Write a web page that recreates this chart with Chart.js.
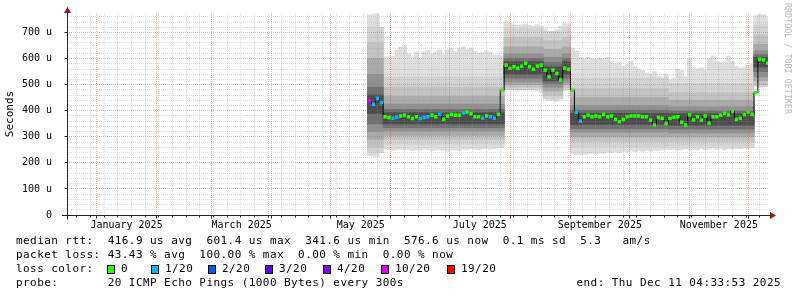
<!DOCTYPE html>
<html><head><meta charset="utf-8">
<script src="https://cdn.jsdelivr.net/npm/chart.js@4.4.1/dist/chart.umd.min.js"></script>
<style>
html,body{margin:0;padding:0;background:#fff;}
#wrap{position:relative;width:797px;height:297px;overflow:hidden;background:#fff;}
#c{position:absolute;left:0;top:0;}
.t{position:absolute;font-family:"DejaVu Sans Mono",monospace;font-size:11px;letter-spacing:0.43px;white-space:pre;color:#000;line-height:14px;}
.sw{position:absolute;top:265px;width:6px;height:7px;border:1px solid #000;}
#wm{position:absolute;left:781px;top:3px;font-family:"DejaVu Sans Mono",monospace;font-size:8.4px;color:#b8b8b8;white-space:pre;transform-origin:0 0;transform:translate(12px,0) rotate(90deg);}
</style></head>
<body><div id="wrap"><canvas id="c" width="797" height="297"></canvas>
<div class="t" style="left:16px;top:234px">median rtt:  416.9 us avg  601.4 us max  341.6 us min  576.6 us now  0.1 ms sd  5.3   am/s</div>
<div class="t" style="left:16px;top:248px">packet loss: 43.43 % avg  100.00 % max  0.00 % min  0.00 % now</div>
<div class="t" style="left:16px;top:262px">loss color:</div>
<div id="losscolor"></div>
<div class="t" style="left:16px;top:276px">probe:       20 ICMP Echo Pings (1000 Bytes) every 300s</div>
<div class="t" style="right:16px;top:276px">end: Thu Dec 11 04:33:53 2025</div>
<div id="wm">RRDTOOL / TOBI OETIKER</div>
</div>
<script>
// ---- data (days since 1 Jan 2025, values in microseconds) ----
const bucketDay = [140,142,144,146,148,150,152,154,156,158,160,162,164,166,168,170,172,174,176,178,180,182,184,186,188,190,192,194,196,198,200,202,204,206,208,210,212,214,216,218,220,222,224,226,228,230,232,234,236,238,240,242,244,246,248,250,252,254,256,258,260,262,264,266,268,270,272,274,276,278,280,282,284,286,288,290,292,294,296,298,300,302,304,306,308,310,312,314,316,318,320,322,324,326,328,330,332,334,336,338,340,342,344];
const medianRtt = [438,425,448,431,377,374,371,375,380,383,
 377,370,377,370,374,377,383,377,387,367,
 380,386,383,383,392,395,389,377,377,371,
 380,377,371,386,479,575,563,569,563,571,
 582,569,559,571,575,556,530,556,543,518,
 563,559,479,394,360,377,383,377,380,377,
 386,377,380,367,358,367,377,380,380,380,
 377,377,364,345,374,371,351,371,375,377,
 356,345,384,365,377,364,380,352,377,377,
 383,390,384,399,367,371,385,395,386,469,
 598,595,583];
const lossCount = [10,1,1,1,0,0,1,1,0,0,
 0,0,0,1,1,1,0,0,1,0,
 0,0,0,0,1,0,0,0,0,1,
 0,1,1,0,0,0,0,0,0,0,
 0,0,0,0,0,0,0,0,0,0,
 0,0,0,1,1,0,0,0,0,0,
 0,0,0,0,0,0,0,0,0,0,
 0,0,0,0,0,0,0,0,0,0,
 0,0,0,0,0,0,0,0,0,0,
 0,0,0,0,0,0,0,0,0,0,
 0,0,0];
const smokeHi = [768,770,772,700,607,607,610,633,645,650,
 618,607,626,601,626,633,618,626,633,614,
 633,640,626,640,646,636,640,630,620,625,
 630,625,614,614,610,745,735,730,728,730,
 732,728,725,730,725,715,705,700,710,725,
 735,732,640,630,605,600,605,600,598,602,
 600,605,590,580,585,570,578,590,570,560,
 555,545,540,550,530,525,540,520,525,560,
 555,530,600,565,560,565,555,600,610,590,
 585,590,610,590,570,565,565,575,580,765,
 770,768,760];
const smokeLo = [228,225,224,240,252,250,248,250,252,249,
 251,247,250,248,252,250,246,249,251,248,
 245,249,250,247,252,250,255,252,250,254,
 256,252,255,258,258,482,480,483,478,481,
 484,480,482,476,470,445,440,438,436,445,
 478,482,236,232,230,232,235,236,234,238,
 236,240,238,242,240,244,241,245,243,246,
 244,248,245,250,247,249,252,250,253,248,
 251,254,249,252,250,255,251,253,256,252,
 254,250,255,253,256,254,257,255,258,492,
 490,495,493];
// inner smoke layers, per stretch of buckets (first bucket index of each stretch)
const segFirst = [0,4,35,45,50,52,77,99];
const band2Hi = [720,530,715,705,715,525,505,730];
const band2Lo = [240,272,481,445,481,262,265,494];
const band3Hi = [660,490,680,670,680,485,470,690];
const band3Lo = [260,290,490,460,490,282,282,500];
const band4Hi = [600,455,645,635,645,450,440,655];
const band4Lo = [290,305,500,475,500,300,300,515];
const band5Hi = [540,425,618,605,618,420,415,630];
const band5Lo = [320,322,510,490,510,318,315,530];
const band6Hi = [490,405,600,585,600,402,398,615];
const band6Lo = [350,335,525,505,525,332,330,550];
const band7Hi = [460,392,588,568,588,390,388,605];
const band7Lo = [390,350,540,515,540,348,345,568];
const smokeShades = ['#dedede','#d2d2d2','#c2c2c2','#aaaaaa','#909090','#707070','#4c4c4c'];
// axis / legend
const yTicks = [0,100,200,300,400,500,600,700];
const monthStartDays = [0,31,59,90,120,151,181,212,243,273,304,334];
const monthLabelDays = [15.5,74.5,135.5,196.5,258,319];
const monthLabels = ['January 2025','March 2025','May 2025','July 2025','September 2025','November 2025'];
const firstSunday = -10;
const lossSteps = [0,1,2,3,4,10,19];
const lossNames = ['0','1/20','2/20','3/20','4/20','10/20','19/20'];
const lossColors = ['#26ff00','#00b8ff','#0059ff','#5e00ff','#7e00ff','#dd00ff','#ff0000'];
const lossKeyX = [107,151,208,265,323,381,447];
const X_MIN = -15, X_MAX = 344.2, Y_MAX = 775;

// loss colour key
(function(){
  const el = document.getElementById('losscolor');
  let h = '';
  lossNames.forEach((n,i)=>{
    h += '<span class="sw" style="left:'+lossKeyX[i]+'px;background:'+lossColors[i]+'"></span>';
    h += '<span class="t" style="left:'+(lossKeyX[i]+14)+'px;top:262px">'+n+'</span>';
  });
  el.innerHTML = h;
})();

function segOf(i){ let s=0; for(let k=0;k<segFirst.length;k++){ if(i>=segFirst[k]) s=k; } return s; }
function colorFor(c){ let k=0; for(let j=0;j<lossSteps.length;j++){ if(c>=lossSteps[j]) k=j; } return lossColors[k]; }

function bandDataset(lo, hi, color, order){
  return { type:'bar', data: bucketDay.map((d,i)=>({x:d, y:[lo(i), hi(i)]})),
    backgroundColor: color, borderWidth:0, grouped:false, barThickness:4.3, order: order };
}
const innerBands = [[band2Lo,band2Hi],[band3Lo,band3Hi],[band4Lo,band4Hi],[band5Lo,band5Hi],[band6Lo,band6Hi],[band7Lo,band7Hi]];
const datasets = [
  { type:'line', data: bucketDay.map((d,i)=>({x:d,y:medianRtt[i]})), borderColor:'#000', borderWidth:1,
    stepped:'middle', pointStyle:'rect', pointRadius:2.5, pointBorderWidth:0,
    pointBackgroundColor: lossCount.map(colorFor), order:0 },
  bandDataset(i=>smokeLo[i], i=>smokeHi[i], smokeShades[0], 10)
];
innerBands.forEach((b,k)=>{
  datasets.push(bandDataset(i=>b[0][segOf(i)], i=>b[1][segOf(i)], smokeShades[k+1], 9-k));
});

const MINOR = 'rgba(150,150,150,0.32)';
const MAJOR = 'rgba(225,70,70,0.42)';
const gridPlugin = {
  id:'rrdgrid',
  afterDatasetsDraw(chart){
    const {ctx, chartArea:a, scales:{x,y}} = chart;
    const L=(x1,y1,x2,y2)=>{ctx.beginPath();ctx.moveTo(x1,y1);ctx.lineTo(x2,y2);ctx.stroke();};
    ctx.save(); ctx.lineWidth=1; ctx.setLineDash([1,1]);
    ctx.strokeStyle = MINOR;
    for(let v=20; v<Y_MAX; v+=20){ if(v%100===0) continue; const py=Math.floor(y.getPixelForValue(v))+0.5; L(a.left,py,a.right,py); }
    for(let d=firstSunday; d<=X_MAX; d+=7){ const px=Math.floor(x.getPixelForValue(d))+0.5; L(px,a.top,px,a.bottom); }
    ctx.strokeStyle = MAJOR;
    yTicks.forEach(v=>{ if(v===0) return; const py=Math.floor(y.getPixelForValue(v))+0.5; L(a.left,py,a.right,py); });
    monthStartDays.forEach(d=>{ const px=Math.floor(x.getPixelForValue(d))+0.5; L(px,a.top,px,a.bottom); });
    ctx.restore();
  },
  afterDraw(chart){
    const {ctx, chartArea:a, scales:{x,y}} = chart;
    const L=(x1,y1,x2,y2)=>{ctx.beginPath();ctx.moveTo(x1,y1);ctx.lineTo(x2,y2);ctx.stroke();};
    ctx.save(); ctx.lineWidth=1; ctx.strokeStyle='#222';
    const ax = Math.floor(a.left)+0.5, ay = Math.floor(a.bottom)+0.5;
    L(ax, a.top, ax, ay+4);
    L(a.left-5, ay, a.right+3, ay);
    yTicks.forEach(v=>{ const py=Math.floor(y.getPixelForValue(v))+0.5; L(ax-3,py,ax,py); });
    monthStartDays.forEach(d=>{ const px=Math.floor(x.getPixelForValue(d))+0.5; L(px,ay,px,ay+3); });
    for(let d=firstSunday; d<=X_MAX; d+=7){ const px=Math.floor(x.getPixelForValue(d))+0.5; L(px,ay,px,ay+2); }
    ctx.fillStyle='#8b1a1a';
    ctx.beginPath(); ctx.moveTo(ax,a.top-6); ctx.lineTo(ax-3.5,a.top); ctx.lineTo(ax+3.5,a.top); ctx.closePath(); ctx.fill();
    ctx.beginPath(); ctx.moveTo(a.right+8,ay); ctx.lineTo(a.right+2,ay-3.5); ctx.lineTo(a.right+2,ay+3.5); ctx.closePath(); ctx.fill();
    ctx.restore();
  }
};

new Chart(document.getElementById('c'), {
  type:'bar',
  data:{ datasets },
  options:{
    responsive:false, animation:false, devicePixelRatio:1,
    layout:{ padding:{ left:0, top:13, right:29, bottom:0 } },
    plugins:{ legend:{display:false}, tooltip:{enabled:false}, title:{display:false} },
    scales:{
      x:{ type:'linear', min:X_MIN, max:X_MAX, offset:false,
        grid:{display:false}, border:{display:false},
        afterBuildTicks:(s)=>{ s.ticks = monthLabelDays.map(v=>({value:v})); },
        afterFit:(s)=>{ s.height = 82; },
        ticks:{ autoSkip:false, maxRotation:0, padding:-3.5, color:'#000',
          font:{family:'DejaVu Sans Mono', size:10},
          callback:(v)=>{ const k=monthLabelDays.indexOf(v); return k>=0?monthLabels[k]:''; } } },
      y:{ type:'linear', min:0, max:Y_MAX,
        grid:{display:false}, border:{display:false},
        afterBuildTicks:(s)=>{ s.ticks = yTicks.map(v=>({value:v})); },
        afterFit:(s)=>{ s.width = 67; },
        title:{ display:true, text:'Seconds', color:'#000', font:{family:'DejaVu Sans Mono', size:11}, padding:{top:4,bottom:0} },
        ticks:{ padding:7, color:'#000', font:{family:'DejaVu Sans Mono', size:10},
          callback:(v)=> v===0 ? '0' : v+' u' } }
    }
  },
  plugins:[gridPlugin]
});
</script>
</body></html>
